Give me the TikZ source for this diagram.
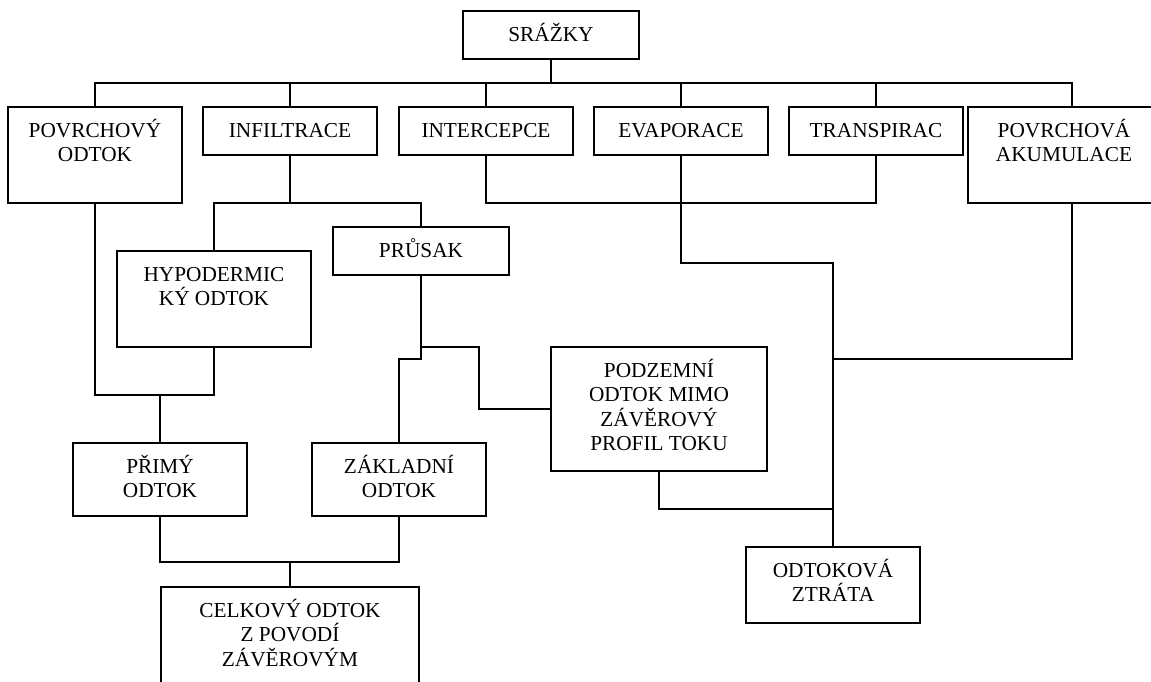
\documentclass[tikz,border=0pt]{standalone}
\usepackage{fontspec}
\setmainfont{Liberation Serif}
\newcommand\ml[1]{\parbox[t]{260pt}{\centering #1}}
\tikzset{
  box/.style={draw, line width=2pt, inner sep=0pt, outer sep=0pt},
  txt/.style={anchor=base, inner sep=0pt, font=\fontsize{21.3}{24.5}\selectfont},
  conn/.style={line width=2pt}
}
\newcommand\bx[6]{%
  \node[box, minimum width={#4pt-#2pt}, minimum height={#5pt-#3pt}] (#1) at ({(#2+#4)/2},{(#3+#5)/2}) {};
  \node[txt] (#1t) at ([yshift=-30pt]#1.north) {\ml{#6}};
}
\begin{document}
\begin{tikzpicture}[x=1pt,y=-1pt]
\useasboundingbox (0,0) rectangle (1151,681);
\fill[white] (0,0) rectangle (1151,681);
\clip (0,0) rectangle (1151,681);
\bx{srazky}{463}{11}{639}{59}{SRÁŽKY}
\bx{povo}{8}{107}{182}{203}{POVRCHOVÝ\\ODTOK}
\bx{infil}{203}{107}{377}{155}{INFILTRACE}
\bx{intc}{399}{107}{573}{155}{INTERCEPCE}
\bx{evap}{594}{107}{768}{155}{EVAPORACE}
\bx{transp}{789}{107}{963}{155}{TRANSPIRAC}
\bx{akum}{968}{107}{1160}{203}{POVRCHOVÁ\\AKUMULACE}
\bx{hypo}{117}{251}{311}{347}{HYPODERMIC\\KÝ ODTOK}
\bx{prusak}{333}{227}{509}{275}{PRŮSAK}
\bx{podz}{551}{347}{767}{471}{PODZEMNÍ\\ODTOK MIMO\\ZÁVĚROVÝ\\PROFIL TOKU}
\bx{primy}{73}{443}{247}{516}{PŘIMÝ\\ODTOK}
\bx{zaklad}{312}{443}{486}{516}{ZÁKLADNÍ\\ODTOK}
\bx{celk}{161}{587}{419}{720}{CELKOVÝ ODTOK\\Z POVODÍ\\ZÁVĚROVÝM}
\bx{ztrata}{746}{547}{920}{623}{ODTOKOVÁ\\ZTRÁTA}
% junction coordinates
\coordinate (bus) at (551,83);
\coordinate (ji) at (290,203);
\coordinate (jp) at (160,395);
\coordinate (jc) at (290,562);
\coordinate (je) at (833,263);
\coordinate (ja) at (833,359);
\coordinate (jz) at (833,509);
% top distribution
\draw[conn] (srazky.south) -- (bus);
\draw[conn] (povo.north) |- (bus) -| ([xshift=8pt]akum.north);
\foreach \n in {infil,intc,evap,transp} \draw[conn] (\n.north) -- (\n.north |- bus);
% interception / transpiration
\draw[conn] (intc.south) -- ++(0,48) -| (transp.south);
% evaporation to loss
\draw[conn] (evap.south) |- (je) -- (ztrata.north);
\draw[conn] ([xshift=8pt]akum.south) |- (ja);
\draw[conn] (podz.south) |- (jz);
% infiltration
\draw[conn] (infil.south) -- (ji);
\draw[conn] (hypo.north) |- (ji) -| (prusak.north);
% surface and hypodermic runoff
\draw[conn] (povo.south) |- (jp) -| (hypo.south);
\draw[conn] (jp) -- (primy.north);
% percolation
\draw[conn] (prusak.south) -- ++(0,84) -| (zaklad.north);
\draw[conn] ([yshift=-72pt]prusak.south) -| ([xshift=-72pt]podz.west) -- (podz.west);
% total runoff
\draw[conn] (primy.south) |- (jc) -| (zaklad.south);
\draw[conn] (jc) -- (celk.north);
\end{tikzpicture}
\end{document}
